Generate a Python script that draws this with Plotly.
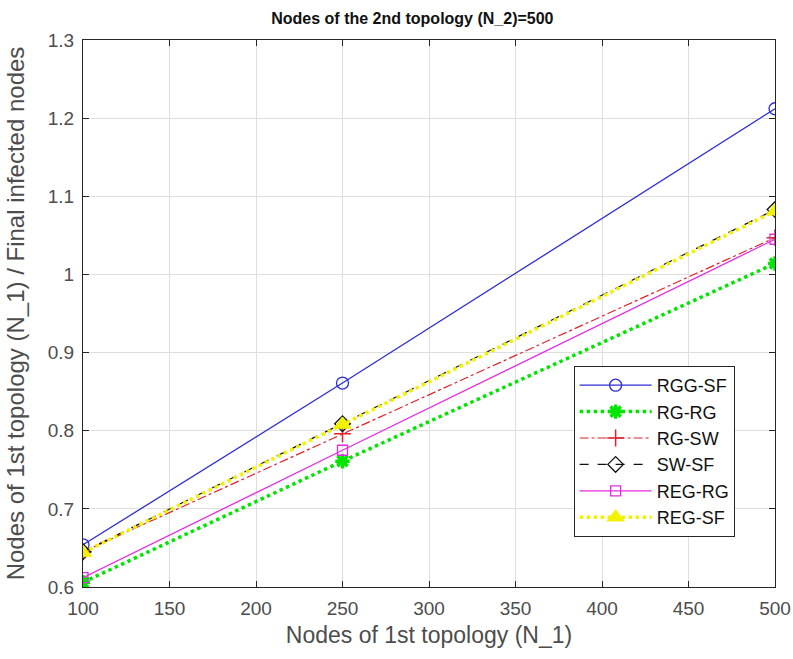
import plotly.graph_objects as go

x_nodes = [100, 250, 500]
rgg_sf = [0.654, 0.861, 1.212]
rg_rg = [0.606, 0.761, 1.014]
rg_sw = [0.645, 0.796, 1.047]
sw_sf = [0.645, 0.809, 1.083]
reg_rg = [0.612, 0.775, 1.045]
reg_sf = [0.644, 0.808, 1.081]

x_ticks = [100, 150, 200, 250, 300, 350, 400, 450, 500]
y_ticks = [0.6, 0.7, 0.8, 0.9, 1.0, 1.1, 1.2, 1.3]
y_ticktext = ["0.6", "0.7", "0.8", "0.9", "1", "1.1", "1.2", "1.3"]

series = [
    ("RGG-SF", rgg_sf, dict(color="#2d2dd6", width=1.3, dash="solid"),
     dict(symbol="circle-open", size=12, color="#2d2dd6", line=dict(width=1.3))),
    ("RG-RG", rg_rg, dict(color="#00e600", width=3.5, dash="dot"),
     dict(symbol="asterisk-open", size=12, color="#00e600", line=dict(width=3.5, color="#00e600"))),
    ("RG-SW", rg_sw, dict(color="#e0202a", width=1.2, dash="dashdot"),
     dict(symbol="cross-thin-open", size=12, color="#e0202a", line=dict(width=1.5, color="#e0202a"))),
    ("SW-SF", sw_sf, dict(color="#111111", width=1.2, dash="dash"),
     dict(symbol="diamond-open", size=12, color="#111111", line=dict(width=1.3))),
    ("REG-RG", reg_rg, dict(color="#e22de2", width=1.3, dash="solid"),
     dict(symbol="square-open", size=10, color="#e22de2", line=dict(width=1.3))),
    ("REG-SF", reg_sf, dict(color="#f2f200", width=3.5, dash="dot"),
     dict(symbol="triangle-up", size=15, color="#f2f200", line=dict(width=1, color="#f2f200"))),
]

fig = go.Figure()
for name, ys, ln, mk in series:
    fig.add_trace(go.Scatter(x=x_nodes, y=ys, name=name, mode="lines+markers",
                             line=ln, marker=mk))

FONT = "Liberation Sans, Arial"
axis_common = dict(
    showgrid=True, gridcolor="#dedede", gridwidth=1,
    showline=True, linecolor="#262626", linewidth=1.3, mirror="ticks",
    ticks="inside", ticklen=6, tickcolor="#262626",
    zeroline=False, automargin=False,
    tickfont=dict(family=FONT, size=19, color="#4d4d4d"),
)

fig.update_layout(
    width=793, height=659,
    margin=dict(l=83, r=18, t=40, b=72),
    paper_bgcolor="white", plot_bgcolor="white",
    title=dict(text="<b>Nodes of the 2nd topology (N_2)=500</b>", x=0.476, xref="paper",
               xanchor="center",
               y=1 - 18 / 659, yanchor="middle",
               font=dict(family=FONT, size=16, color="#111111")),
    xaxis=dict(range=[100, 500], tickvals=x_ticks, ticklabelstandoff=4,
               title=dict(text="Nodes of 1st topology (N_1)", standoff=8,
                          font=dict(family=FONT, size=23, color="#4d4d4d")),
               **axis_common),
    yaxis=dict(range=[0.6, 1.3], tickvals=y_ticks, ticktext=y_ticktext, ticklabelstandoff=4,
               title=dict(text="Nodes of 1st topology (N_1) / Final infected nodes", standoff=16,
                          font=dict(family=FONT, size=24, color="#4d4d4d")),
               **axis_common),
    legend=dict(x=0.709, y=0.404, xanchor="left", yanchor="top",
                bgcolor="white", bordercolor="#262626", borderwidth=1,
                font=dict(family=FONT, size=18, color="#111111"),
                tracegroupgap=0, itemwidth=72),
    showlegend=True,
)

fig.write_html("out.html")
